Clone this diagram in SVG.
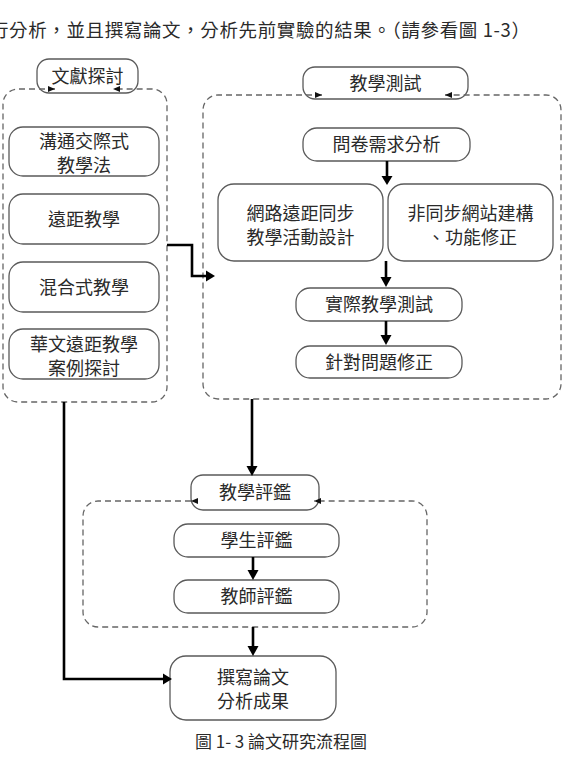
<svg xmlns="http://www.w3.org/2000/svg" width="564" height="770" viewBox="0 0 564 770">
<style>
.bg{fill:#fff}
.box{fill:#fff;stroke:#5a5a5a;stroke-width:1.3}
.dash{fill:none;stroke:#666;stroke-width:1.3;stroke-dasharray:6 4}
.conn{fill:none;stroke:#000;stroke-width:2.6}
.ah{fill:#000}
.sah{fill:#111}
text{font-family:"Noto Sans CJK TC","Noto Sans CJK SC",sans-serif;font-size:18px;fill:#2a2a2a;text-anchor:middle}
.intro{text-anchor:start;font-size:18.5px}
.cap{font-size:17px}
</style>
<rect class="bg" x="0" y="0" width="564" height="770"/>
<text class="intro" x="-10" y="37" textLength="540" lengthAdjust="spacing">行分析，並且撰寫論文，分析先前實驗的結果。（請參看圖 1-3）</text>

<g id="lit-title"><rect class="box" x="37" y="59" width="101" height="34" rx="12"/><text x="87.5" y="82.5">文獻探討</text></g>
<g id="lit-1"><rect class="box" x="9" y="127" width="150" height="49" rx="14"/><text x="84" y="147.5">溝通交際式<tspan x="84" dy="24">教學法</tspan></text></g>
<g id="lit-2"><rect class="box" x="9" y="194" width="150" height="50" rx="14"/><text x="84" y="225.5">遠距教學</text></g>
<g id="lit-3"><rect class="box" x="9" y="262" width="150" height="50" rx="14"/><text x="84" y="293.5">混合式教學</text></g>
<g id="lit-4"><rect class="box" x="9" y="329" width="150" height="50" rx="14"/><text x="84" y="350.5">華文遠距教學<tspan x="84" dy="24">案例探討</tspan></text></g>
<g id="lit-group"><path class="dash" d="M55,89 H18 A15,15 0 0 0 3,104 V387 A15,15 0 0 0 18,402 H152 A15,15 0 0 0 167,387 V104 A15,15 0 0 0 152,89 H113"/><polygon class="sah" points="48,86 55,89 48,92"/><polygon class="sah" points="120,86 113,89 120,92"/></g>

<g id="test-title"><rect class="box" x="303" y="67" width="165" height="32" rx="12"/><text x="385.5" y="89.5">教學測試</text></g>
<g id="test-1"><rect class="box" x="303" y="128" width="167" height="33" rx="14"/><text x="386.5" y="151">問卷需求分析</text></g>
<g id="test-2"><rect class="box" x="218" y="184" width="165" height="77" rx="16"/><text x="300.5" y="219.5">網路遠距同步<tspan x="300.5" dy="24">教學活動設計</tspan></text></g>
<g id="test-3"><rect class="box" x="388" y="184" width="165" height="77" rx="16"/><text x="470.5" y="219.5">非同步網站建構<tspan x="472" dy="24">、功能修正</tspan></text></g>
<g id="test-4"><rect class="box" x="296" y="288" width="166" height="33" rx="14"/><text x="379" y="311">實際教學測試</text></g>
<g id="test-5"><rect class="box" x="296" y="346" width="166" height="32" rx="14"/><text x="379" y="368.5">針對問題修正</text></g>
<g id="test-group"><path class="dash" d="M322,95 H218 A15,15 0 0 0 203,110 V384 A15,15 0 0 0 218,399 H546 A15,15 0 0 0 561,384 V110 A15,15 0 0 0 546,95 H445"/><polygon class="sah" points="315,92 322,95 315,98"/><polygon class="sah" points="452,92 445,95 452,98"/></g>

<g id="eval-title"><rect class="box" x="191" y="475" width="128" height="35" rx="12"/><text x="255" y="499">教學評鑑</text></g>
<g id="eval-1"><rect class="box" x="174" y="524" width="165" height="33" rx="14"/><text x="256.5" y="547">學生評鑑</text></g>
<g id="eval-2"><rect class="box" x="174" y="580" width="165" height="33" rx="14"/><text x="256.5" y="603">教師評鑑</text></g>
<g id="eval-group"><path class="dash" d="M191,501 H98 A15,15 0 0 0 83,516 V612 A15,15 0 0 0 98,627 H412 A15,15 0 0 0 427,612 V516 A15,15 0 0 0 412,501 H314"/><polygon class="sah" points="198,498 191,501 198,504"/><polygon class="sah" points="321,498 314,501 321,504"/></g>

<g id="write"><rect class="box" x="170" y="656" width="166" height="64" rx="16"/><text x="253" y="683.5">撰寫論文<tspan x="253" dy="24">分析成果</tspan></text></g>

<g id="connectors">
<path class="conn" d="M167,245 H192 V276 H207"/><polygon class="ah" points="206,270.5 215,276 206,281.5"/>
<path class="conn" d="M387,161 V177"/><polygon class="ah" points="381.5,176 387,185 392.5,176"/>
<path class="conn" d="M386,261 V278"/><polygon class="ah" points="380.5,277 386,287 391.5,277"/>
<path class="conn" d="M386,321 V336"/><polygon class="ah" points="380.5,335 386,345 391.5,335"/>
<path class="conn" d="M252,399 V467"/><polygon class="ah" points="246.5,466 252,476 257.5,466"/>
<path class="conn" d="M253,557 V571"/><polygon class="ah" points="247.5,570 253,580 258.5,570"/>
<path class="conn" d="M253,627 V647"/><polygon class="ah" points="247.5,646 253,656 258.5,646"/>
<path class="conn" d="M64,402 V679 H164"/><polygon class="ah" points="163,673.5 172,679 163,684.5"/>
</g>

<text class="cap" x="281" y="748">圖 1- 3 論文研究流程圖</text>
</svg>
